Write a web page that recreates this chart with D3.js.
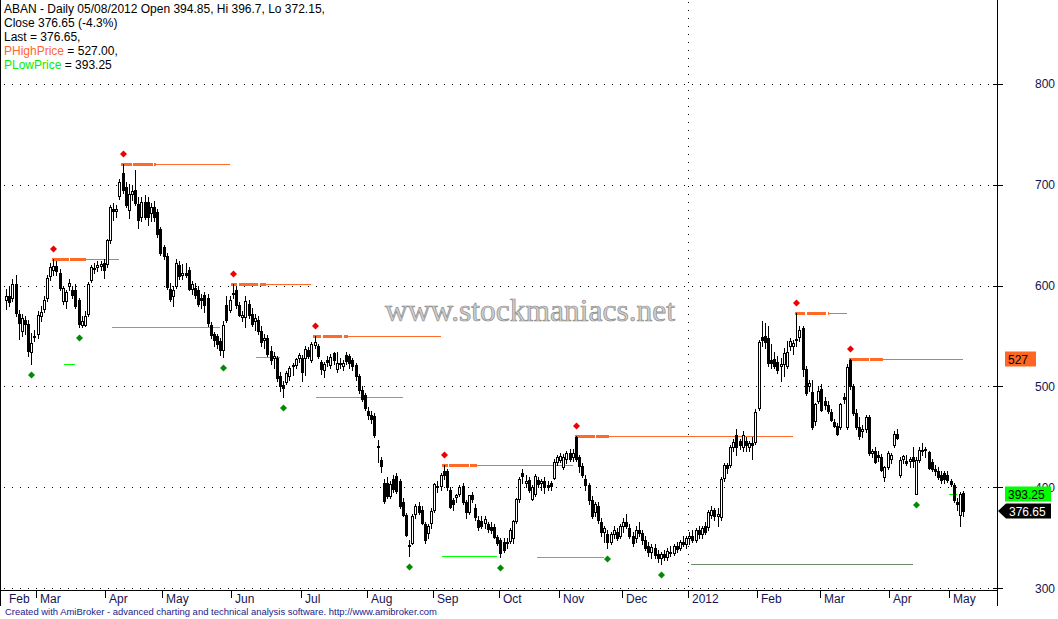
<!DOCTYPE html>
<html><head><meta charset="utf-8">
<script src="https://cdnjs.cloudflare.com/ajax/libs/d3/7.8.5/d3.min.js"></script>
<style>
html,body{margin:0;padding:0;background:#fff;}
svg{display:block;font-family:"Liberation Sans",Arial,sans-serif;}
</style></head><body>
<svg id="c" width="1058" height="619"></svg>
<script>
// ---- Daily OHLC, ABAN, Feb 2011 - 08 May 2012 (one row per month) ----
const opens = [
586,590,588,601,572,555,566,562,534,550,
552,570,577,588,609,615,619,612,585,585,600,596,596,586,561,561,572,605,616,618,619,622,
621,645,676,674,689,711,698,675,691,695,681,668,683,683,672,678,673,656,
638,629,597,590,600,620,610,612,615,597,598,596,588,591,588,561,552,550,545,536,581,576,
592,596,581,569,569,582,572,565,566,555,546,548,535,528,528,510,501,504,510,520,521,528,
528,528,536,526,541,540,524,516,526,521,533,517,523,520,531,530,526,521,510,497,492,
476,472,471,441,427,404,404,392,408,411,406,386,373,343,345,374,382,378,364,355,365,
378,401,401,416,416,398,388,391,394,401,386,376,393,380,368,367,365,364,361,361,351,
348,346,345,347,350,367,389,414,404,407,389,394,407,404,406,402,404,409,425,
427,420,428,434,430,450,430,421,408,402,388,376,382,366,356,354,346,354,356,352,
362,366,360,352,350,358,355,348,342,336,340,334,330,334,331,336,335,342,340,346,344,
350,352,348,358,354,362,361,373,378,372,371,409,422,422,440,452,446,440,446,440,444,445,
479,549,550,548,526,527,524,520,522,520,540,540,546,549,558,517,500,495,466,486,
498,486,482,475,465,461,460,490,460,526,500,474,460,456,458,470,434,436,432,430,410,420,
428,442,453,412,428,426,426,430,394,427,437,437,435,425,418,416,412,414,412,
406,402,386,373,394.85];
const highs = [
597,600,606,610,576,572,570,566,553,556,
575,580,590,610,622,626,624,616,600,596,606,600,601,588,570,575,603,620,622,624,624,626,
646,680,682,680,705,720,702,701,700,714,688,688,690,688,682,684,676,658,
640,632,602,600,626,624,621,622,618,604,602,600,592,594,592,564,554,552,548,565,590,590,
601,599,584,575,590,586,578,572,570,560,552,551,540,534,530,514,505,515,520,523,528,533,
531,540,539,544,550,542,526,524,530,532,534,534,528,526,534,532,528,523,512,500,494,
480,476,474,447,430,408,410,406,412,414,408,390,375,348,374,384,386,382,366,364,380,
404,406,414,422,418,400,390,394,402,404,388,393,396,384,372,372,372,366,366,364,353,
350,350,350,360,368,390,410,418,412,410,402,413,410,408,410,406,406,428,432,
434,433,436,438,438,451,432,424,412,404,392,386,386,370,362,358,356,362,360,364,
370,374,364,356,362,366,358,352,346,344,344,338,336,338,340,342,344,346,348,352,352,
356,358,360,362,362,366,378,382,380,380,410,424,424,442,448,458,448,456,450,446,450,478,
546,565,563,560,542,534,530,528,538,545,548,546,573,560,560,520,506,506,484,500,
502,490,486,478,468,464,484,494,522,527,502,478,470,462,472,472,438,440,436,433,421,436,
434,456,458,430,432,432,430,440,430,440,444,440,436,428,422,420,416,416,416,
408,404,390,396,396.7];
const lows = [
577,580,585,570,547,550,552,530,522,545,
548,565,574,585,605,610,610,596,582,578,596,588,578,559,559,560,570,603,612,614,615,607,
618,642,665,668,686,692,678,667,685,680,657,664,666,660,664,664,648,630,
626,597,585,580,598,606,606,608,596,592,588,580,578,574,560,548,540,538,531,529,564,574,
588,578,570,565,559,568,560,556,552,540,538,530,522,518,505,496,490,502,506,511,518,524,
505,511,528,524,538,528,512,509,520,518,522,514,518,516,522,518,516,506,494,486,477,
468,464,450,425,415,385,390,390,396,395,380,372,352,332,344,370,374,364,345,350,360,
376,396,398,408,398,380,378,386,392,384,370,374,386,368,358,360,360,356,355,350,343,
331,336,340,345,345,365,386,404,400,396,388,392,400,398,395,398,398,408,422,
425,418,424,426,426,426,415,410,398,384,370,372,365,352,346,340,344,350,348,350,
356,360,350,342,346,352,344,338,332,330,330,326,324,328,328,332,333,336,338,342,340,
344,346,346,350,350,354,358,370,368,362,368,406,414,420,436,432,438,436,436,436,428,443,
477,540,538,520,518,518,513,505,510,518,536,532,540,545,510,492,496,458,462,484,
476,478,474,466,460,452,458,484,458,498,472,458,448,450,455,432,430,424,426,416,406,418,
424,440,448,410,424,422,420,420,393.25,425,432,430,418,416,412,408,404,404,405,
401,386,378,362,372.15];
const closes = [
590,584,601,573,563,568,562,535,543,549,
571,574,586,607,618,619,614,598,598,594,602,591,580,562,565,570,601,618,617,620,621,615,
645,678,674,676,702,695,680,691,694,682,665,683,668,668,678,668,651,632,
629,599,587,596,622,609,612,610,597,601,591,582,586,581,563,551,546,542,536,561,566,586,
593,581,571,571,585,571,562,568,555,544,548,532,526,530,508,500,499,513,518,521,527,531,
514,537,530,542,544,530,517,522,524,529,526,523,522,523,525,523,520,510,497,488,479,
472,468,452,440,421,387,392,403,399,397,382,373,353,343,372,382,376,365,348,362,377,
403,401,412,412,400,381,384,393,400,386,376,393,389,371,361,362,369,359,358,351,345,
335,338,346,358,367,389,408,411,406,398,400,411,403,406,400,400,401,425,430,
431,430,434,428,434,428,421,412,402,388,372,384,368,356,360,346,354,358,350,362,
366,362,352,345,358,355,348,340,336,341,333,330,334,331,337,335,342,339,346,344,350,
352,348,358,354,360,356,376,378,372,374,408,422,419,440,445,440,442,452,442,444,442,475,
544,546,544,523,523,520,516,522,533,534,545,543,547,556,517,494,503,460,483,496,
477,482,476,467,461,453,483,488,519,500,474,460,451,458,470,434,436,425,430,417,420,434,
432,453,449,427,431,424,428,426,427,437,436,438,419,418,416,410,407,408,407,
403,388,384,394,376.65];

// month axis
const monthLabels = ["Feb","Mar","Apr","May","Jun","Jul","Aug","Sep","Oct","Nov","Dec","2012","Feb","Mar","Apr","May"];
const monthStarts = [0,10,32,50,72,94,115,136,157,176,196,217,239,259,281,300];
const yearStartBar = 217;
// price axis
const priceTicks = [300,400,500,600,700,800];

// pivot highs (bar index) and the bar where each PHighPrice line stops
const peakBars = [15,37,72,98,139,181,251,268];
const peakEnds = [36,71,97,138,180,250,267,304];
// pivot lows (diamonds)
const troughBars = [8,23,69,88,128,157,191,208,289];
// PLowPrice lines: pivot low they belong to, first and last bar
const lowLineBars = [8,23,69,88,128,157,208,289];
const lowLineStart = [19,34,80,99,139,169,218,300];
const lowLineEnd = [22,68,87,126,156,190,288,302];

// header values
const headerLines = [
  [["ABAN - Daily 05/08/2012 Open 394.85, Hi 396.7, Lo 372.15,","#000"]],
  [["Close 376.65 (-4.3%)","#000"]],
  [["Last = 376.65,","#000"]],
  [["PHighPrice","#ff6633"],[" = 527.00,","#000"]],
  [["PLowPrice","#00ee00"],[" = 393.25","#000"]]
];
const lastValue = 376.65, pHigh = 527.00, pLow = 393.25;

// ---------------- drawing ----------------
const svg = d3.select("#c");
const ORANGE = "#ff6a26", LIME = "#00ff00", NAVY = "#141450";
const x = d3.scaleLinear().domain([-1.944, 314.75]).range([0, 997]);
const y = d3.scaleLinear().domain([298.5, 882.7]).range([590, 0]);
const px = v => Math.round(y(v)) + 0.5;

const bars = opens.map((o, i) => ({i, o, h: highs[i], l: lows[i], c: closes[i]}));

// grid
const grid = svg.append("g").attr("shape-rendering", "crispEdges");
grid.selectAll("line.h").data(priceTicks).join("line")
  .attr("x1", 4).attr("x2", 997).attr("y1", d => px(d)).attr("y2", d => px(d))
  .attr("stroke", "#000").attr("stroke-dasharray", "1,7");
const yearX = Math.round(x(yearStartBar) - 1.5) + 0.5;
grid.append("line").attr("x1", yearX).attr("x2", yearX).attr("y1", 2).attr("y2", 590)
  .attr("stroke", "#000").attr("stroke-dasharray", "1,7");

// level lines
const lv = svg.append("g").attr("shape-rendering", "crispEdges");
const lowVals = lowLineBars.map(t => lows[t]);
lv.selectAll("line.low").data(lowLineBars).join("line")
  .attr("x1", (d, k) => Math.round(x(lowLineStart[k]) - 1.5))
  .attr("x2", (d, k) => Math.round(x(lowLineEnd[k])))
  .attr("y1", (d, k) => px(lowVals[k])).attr("y2", (d, k) => px(lowVals[k]))
  .attr("stroke", (d, k) => d === 208 ? "#6a8a6a" : LIME).attr("stroke-width", 1);

const highVals = peakBars.map(p => highs[p]);
lv.selectAll("line.hi").data(peakBars).join("line")
  .attr("x1", d => Math.round(x(d + 10) + 1.5))
  .attr("x2", (d, k) => Math.round(x(peakEnds[k])))
  .attr("y1", (d, k) => px(highVals[k])).attr("y2", (d, k) => px(highVals[k]))
  .attr("stroke", ORANGE).attr("stroke-width", 1);
// thick first part with the periodic gaps of the original rendering
const period = 21.05, gap = 1.5, gapPhase = 69.4;
lv.selectAll("line.thick").data(peakBars).join("line")
  .each(function(d, k) {
    const x1 = Math.round(x(d) - 1.5), x2 = Math.min(Math.round(x(d + 10) + 1.5), Math.round(x(peakEnds[k])));
    const yy = Math.round(y(highVals[k]));
    let off = ((x1 - (gapPhase + gap / 2)) % period + period) % period;
    d3.select(this).attr("x1", x1).attr("x2", x2).attr("y1", yy).attr("y2", yy)
      .attr("stroke", ORANGE).attr("stroke-width", 3)
      .attr("stroke-dasharray", `${period - gap},${gap}`)
      .attr("stroke-dashoffset", off);
  });

// candles
const cg = svg.append("g").attr("shape-rendering", "crispEdges");
const cs = cg.selectAll("g").data(bars).join("g");
cs.append("line")
  .attr("x1", d => Math.round(x(d.i)) + 0.5).attr("x2", d => Math.round(x(d.i)) + 0.5)
  .attr("y1", d => Math.round(y(Math.max(d.h, d.o, d.c))))
  .attr("y2", d => Math.round(y(Math.min(d.l, d.o, d.c))) + 1)
  .attr("stroke", "#000");
cs.append("rect")
  .each(function(d) {
    const cx = Math.round(x(d.i));
    const t = Math.round(y(Math.max(d.o, d.c))), b = Math.round(y(Math.min(d.o, d.c)));
    const s = d3.select(this);
    if (d.c > d.o) {
      s.attr("x", cx - 0.5).attr("y", t + 0.5).attr("width", 2).attr("height", Math.max(b - t, 1))
        .attr("fill", "#fff").attr("stroke", "#000");
    } else {
      s.attr("x", cx - 1).attr("y", t).attr("width", 3).attr("height", Math.max(b - t, 1) + 1)
        .attr("fill", "#000");
    }
  });

// pivot markers
const dia = (cx, cy) => `${cx},${cy - 3.5} ${cx + 3.5},${cy} ${cx},${cy + 3.5} ${cx - 3.5},${cy}`;
svg.append("g").selectAll("polygon").data(peakBars).join("polygon")
  .attr("points", d => dia(Math.round(x(d)) + 0.5, Math.round(y(highs[d])) - 10))
  .attr("fill", "#ee0000");
svg.append("g").selectAll("polygon").data(troughBars).join("polygon")
  .attr("points", d => dia(Math.round(x(d)) + 0.5, Math.round(y(lows[d])) + 11))
  .attr("fill", "#008c00");

// frame / axes
const ax = svg.append("g").attr("shape-rendering", "crispEdges").attr("stroke", "#000");
ax.append("line").attr("x1", 0.5).attr("x2", 0.5).attr("y1", 0).attr("y2", 606);
ax.append("line").attr("x1", 0).attr("x2", 997).attr("y1", 590.5).attr("y2", 590.5);
ax.append("line").attr("x1", 997.5).attr("x2", 997.5).attr("y1", 0).attr("y2", 606);
ax.selectAll("line.yt").data(priceTicks).join("line")
  .attr("x1", 993).attr("x2", 1003).attr("y1", d => px(d)).attr("y2", d => px(d));
ax.selectAll("line.mt").data(monthStarts.slice(1)).join("line")
  .attr("x1", d => Math.round(x(d) - 1.5) + 0.5).attr("x2", d => Math.round(x(d) - 1.5) + 0.5)
  .attr("y1", 591).attr("y2", 598);

svg.append("g").selectAll("text").data(monthLabels).join("text")
  .attr("x", (d, k) => Math.round(x(monthStarts[k]) - 1.5) + 4)
  .attr("y", 603).attr("font-size", 12).attr("fill", NAVY).text(d => d);

svg.append("g").selectAll("text").data(priceTicks).join("text")
  .attr("x", 1055).attr("y", d => y(d) + 4.5).attr("text-anchor", "end")
  .attr("font-size", 12).attr("fill", NAVY).text(d => d);

// value boxes on right axis
function valBox(v, txt, bg, fg, arrow, wBox) {
  const cy = Math.round(y(v));
  const g = svg.append("g");
  if (arrow) {
    g.append("polygon").attr("points",
      `998,${cy} 1006,${cy - 7.5} 1051,${cy - 7.5} 1051,${cy + 7.5} 1006,${cy + 7.5}`).attr("fill", bg);
  } else {
    g.append("rect").attr("x", 1005).attr("y", cy - 7.5).attr("width", wBox).attr("height", 15).attr("fill", bg);
  }
  g.append("text").attr("x", arrow ? 1009 : 1008).attr("y", cy + 4.5).attr("font-size", 12)
    .attr("fill", fg).text(txt);
}
valBox(pHigh, "527", "#ff6622", "#000", false, 31);
valBox(pLow, d3.format(".2f")(pLow), "#00ff00", "#000", false, 46);
valBox(lastValue, d3.format(".2f")(lastValue), "#000", "#fff", true);

// header
const hdr = svg.append("g").attr("font-size", 12);
headerLines.forEach((parts, k) => {
  const t = hdr.append("text").attr("x", 4).attr("y", 13 + k * 14);
  parts.forEach(p => t.append("tspan").attr("fill", p[1]).text(p[0]));
});

// watermark
svg.append("text").attr("x", 530).attr("y", 321).attr("text-anchor", "middle")
  .attr("font-family", "Liberation Serif, Times New Roman, serif").attr("font-size", 31)
  .attr("textLength", 290).attr("lengthAdjust", "spacingAndGlyphs")
  .attr("fill", "#d0d0d0").attr("stroke", "#8a8a8a").attr("stroke-width", 0.7)
  .text("www.stockmaniacs.net");

// footer
svg.append("text").attr("x", 5).attr("y", 615).attr("font-size", 9.5).attr("fill", "#1a1a8a")
  .attr("textLength", 432).attr("lengthAdjust", "spacingAndGlyphs")
  .text("Created with AmiBroker - advanced charting and technical analysis software. http://www.amibroker.com");
</script>
</body></html>
